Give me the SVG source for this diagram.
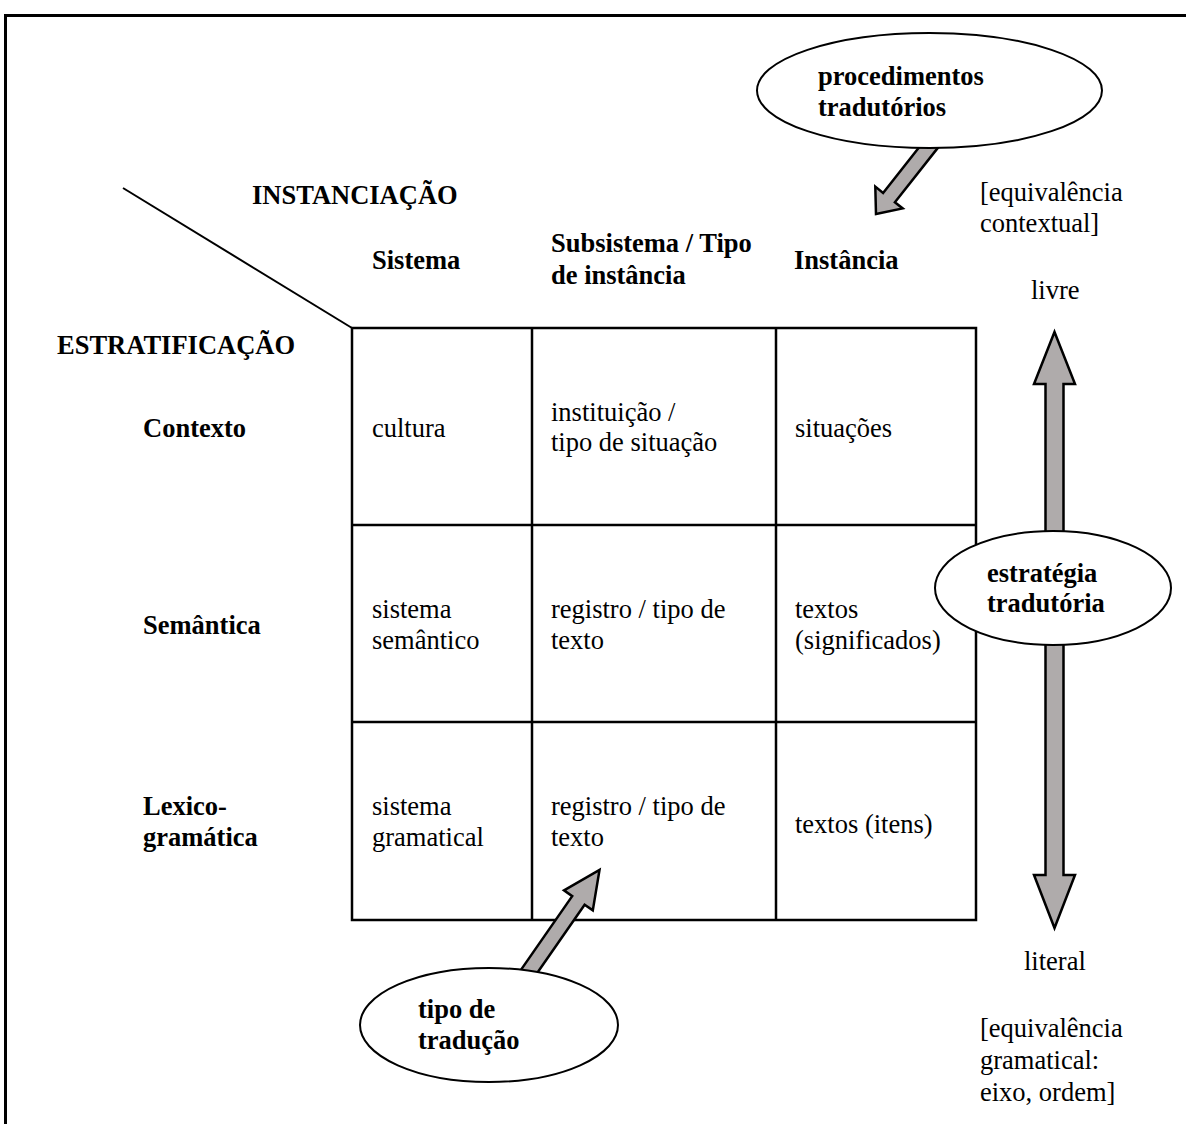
<svg xmlns="http://www.w3.org/2000/svg" width="1186" height="1124" viewBox="0 0 1186 1124">
  <style>
    text { font-family: "Liberation Serif", "Times New Roman", serif; font-size: 26.5px; fill: #000; }
    .b { font-weight: bold; }
    .grid { fill: none; stroke: #000; stroke-width: 2.5; }
    .oval { fill: #fff; stroke: #000; stroke-width: 2; }
    .arrow { fill: #afabab; stroke: #000; stroke-width: 2.5; stroke-linejoin: miter; }
  </style>

  <rect width="1186" height="1124" fill="#fff"/>

  <!-- page frame (top and left edges) -->
  <path d="M5.5,1124 V15.5 H1186" fill="none" stroke="#000" stroke-width="3"/>

  <!-- corner diagonal separating the two axes -->
  <line x1="123" y1="188" x2="352" y2="328" stroke="#000" stroke-width="2"/>

  <!-- axis headings -->
  <g id="axis-labels">
    <text class="b" x="252" y="204">INSTANCIAÇÃO</text>
    <text class="b" x="57" y="354">ESTRATIFICAÇÃO</text>
  </g>

  <!-- column headings -->
  <g id="col-headers">
    <text class="b" x="372" y="269">Sistema</text>
    <text class="b" x="551" y="252">Subsistema / Tipo</text>
    <text class="b" x="551" y="284">de instância</text>
    <text class="b" x="794" y="269">Instância</text>
  </g>

  <!-- row headings -->
  <g id="row-headers">
    <text class="b" x="143" y="437">Contexto</text>
    <text class="b" x="143" y="634">Semântica</text>
    <text class="b" x="143" y="815">Lexico-</text>
    <text class="b" x="143" y="846">gramática</text>
  </g>

  <!-- 3x3 matrix -->
  <g id="matrix">
    <rect class="grid" x="352" y="328" width="624" height="592"/>
    <line class="grid" x1="532" y1="328" x2="532" y2="920"/>
    <line class="grid" x1="776" y1="328" x2="776" y2="920"/>
    <line class="grid" x1="352" y1="525" x2="976" y2="525"/>
    <line class="grid" x1="352" y1="722" x2="976" y2="722"/>

    <g id="cell-contexto">
      <text x="372" y="437">cultura</text>
      <text x="551" y="421">instituição /</text>
      <text x="551" y="451">tipo de situação</text>
      <text x="795" y="437">situações</text>
    </g>
    <g id="cell-semantica">
      <text x="372" y="618">sistema</text>
      <text x="372" y="649">semântico</text>
      <text x="551" y="618">registro / tipo de</text>
      <text x="551" y="649">texto</text>
      <text x="795" y="618">textos</text>
      <text x="795" y="649">(significados)</text>
    </g>
    <g id="cell-lexicogramatica">
      <text x="372" y="815">sistema</text>
      <text x="372" y="846">gramatical</text>
      <text x="551" y="815">registro / tipo de</text>
      <text x="551" y="846">texto</text>
      <text x="795" y="833">textos (itens)</text>
    </g>
  </g>

  <!-- block arrows (drawn below the ovals) -->
  <g id="connectors">
    <!-- procedimentos tradutórios -> Instância -->
    <polygon class="arrow" points="876,214 902.7,208.4 894.9,202.2 940.8,144.1 929,134.8 883.1,192.9 875.3,186.6"/>
    <!-- tipo de tradução -> Subsistema column -->
    <polygon class="arrow" points="599.5,870 592.8,910.4 584.6,904.7 530.4,982.7 518,974.1 572.2,896.1 564,890.4"/>
    <!-- estratégia tradutória: towards livre -->
    <polygon class="arrow" points="1054.5,332 1075,384 1063.5,384 1063.5,545 1045.5,545 1045.5,384 1034,384"/>
    <!-- estratégia tradutória: towards literal -->
    <polygon class="arrow" points="1054.5,928 1075,875 1063.5,875 1063.5,630 1045.5,630 1045.5,875 1034,875"/>
  </g>

  <g id="node-procedimentos">
    <ellipse class="oval" cx="929.5" cy="90.5" rx="172.5" ry="57.5"/>
    <text class="b" x="818" y="85">procedimentos</text>
    <text class="b" x="818" y="116">tradutórios</text>
  </g>

  <g id="node-estrategia">
    <ellipse class="oval" cx="1053" cy="588" rx="118" ry="57"/>
    <text class="b" x="987" y="582">estratégia</text>
    <text class="b" x="987" y="612">tradutória</text>
  </g>

  <g id="node-tipo">
    <ellipse class="oval" cx="489" cy="1025" rx="129" ry="57"/>
    <text class="b" x="418" y="1018">tipo de</text>
    <text class="b" x="418" y="1049">tradução</text>
  </g>

  <!-- pole labels on the right -->
  <g id="pole-livre">
    <text x="980" y="201">[equivalência</text>
    <text x="980" y="232">contextual]</text>
    <text x="1031" y="299">livre</text>
  </g>
  <g id="pole-literal">
    <text x="1024" y="970">literal</text>
    <text x="980" y="1037">[equivalência</text>
    <text x="980" y="1069">gramatical:</text>
    <text x="980" y="1101">eixo, ordem]</text>
  </g>
</svg>
